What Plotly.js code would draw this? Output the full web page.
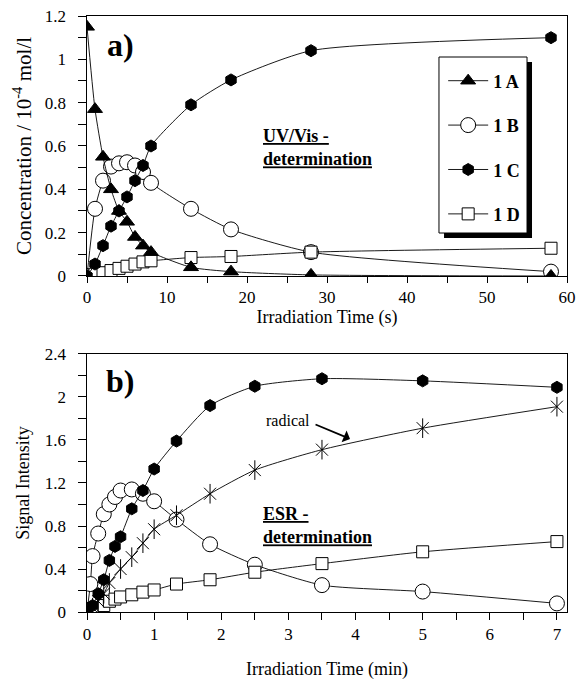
<!DOCTYPE html>
<html><head><meta charset="utf-8">
<script src="https://cdn.plot.ly/plotly-3.0.1.min.js"></script>
<style>html,body{margin:0;padding:0;background:#fff}#chart{width:577px;height:680px}</style>
</head><body><div id="chart"></div>
<script>
// ---- data: panel a) UV/Vis (time in s, concentration in 1e-4 mol/l)
const uvTime = [0, 1, 2, 3, 4, 5, 6, 7, 8, 13, 18, 28, 58];
const uv1A = [1.15, 0.77, 0.55, 0.40, 0.30, 0.25, 0.18, 0.14, 0.11, 0.04, 0.02, 0.005, 0];
const uv1B = [0, 0.31, 0.44, 0.505, 0.52, 0.525, 0.51, 0.48, 0.43, 0.31, 0.215, 0.11, 0.02];
const uv1C = [0, 0.055, 0.14, 0.23, 0.30, 0.365, 0.44, 0.51, 0.60, 0.79, 0.905, 1.04, 1.10];
const uv1D = [0, 0.008, 0.015, 0.025, 0.035, 0.045, 0.055, 0.065, 0.07, 0.085, 0.09, 0.11, 0.128];
const seriesNames = ['1 A', '1 B', '1 C', '1 D'];

// ---- data: panel b) ESR (time in min, signal intensity)
const esrTimeB = [0, 0.05, 0.083, 0.167, 0.25, 0.333, 0.417, 0.5, 0.667, 0.833, 1, 1.333, 1.833, 2.5, 3.5, 5, 7];
const esr1B = [0, 0.26, 0.52, 0.73, 0.91, 1.0, 1.07, 1.13, 1.14, 1.10, 1.03, 0.86, 0.63, 0.44, 0.25, 0.19, 0.08];
const esrTime = [0, 0.083, 0.167, 0.25, 0.333, 0.417, 0.5, 0.667, 0.833, 1, 1.333, 1.833, 2.5, 3.5, 5, 7];
const esr1C = [0, 0.06, 0.17, 0.30, 0.48, 0.61, 0.70, 0.96, 1.13, 1.33, 1.59, 1.92, 2.10, 2.17, 2.15, 2.09];
const esr1D = [0, 0.02, 0.04, 0.06, 0.10, 0.12, 0.14, 0.16, 0.185, 0.205, 0.26, 0.30, 0.37, 0.45, 0.56, 0.655];
const esrTimeRad = [0, 0.083, 0.167, 0.25, 0.333, 0.5, 0.667, 0.833, 1, 1.333, 1.833, 2.5, 3.5, 5, 7];
const esrRad = [0, 0.04, 0.10, 0.17, 0.27, 0.40, 0.51, 0.64, 0.77, 0.90, 1.10, 1.32, 1.51, 1.71, 1.91];

const SERIF = '"Liberation Serif", "Times New Roman", serif';
const lineStyle = {color: '#000', width: 0.9, shape: 'spline', smoothing: 0.6};

function tr(x, y, xa, ya, sym, fill, size, name, rank, show) {
  return {
    x: x, y: y, xaxis: xa, yaxis: ya, type: 'scatter', mode: 'lines+markers',
    name: name, legendrank: rank, legendgroup: name, showlegend: show,
    line: lineStyle,
    marker: {symbol: sym, size: size, color: fill, line: {color: '#000', width: 1}},
    hoverinfo: 'skip'
  };
}

const data = [
  tr(uvTime, uv1B, 'x', 'y', 'circle', '#fff', 15, seriesNames[1], 2, true),
  tr(uvTime, uv1D, 'x', 'y', 'square', '#fff', 12, seriesNames[3], 4, true),
  tr(uvTime, uv1A, 'x', 'y', 'triangle-up', '#000', 13, seriesNames[0], 1, true),
  tr(uvTime, uv1C, 'x', 'y', 'hexagon', '#000', 12, seriesNames[2], 3, true),

  tr(esrTimeB, esr1B, 'x2', 'y2', 'circle', '#fff', 15, 'b1B', 5, false),
  tr(esrTime, esr1D, 'x2', 'y2', 'square', '#fff', 12, 'b1D', 6, false),
  tr(esrTimeRad, esrRad, 'x2', 'y2', 'x-thin-open', '#000', 12, 'rad', 7, false),
  {x: esrTimeRad, y: esrRad, xaxis: 'x2', yaxis: 'y2', type: 'scatter', mode: 'markers', showlegend: false,
   marker: {symbol: 'line-ns-open', size: 14, color: '#000', line: {color: '#000', width: 1}}, hoverinfo: 'skip'},
  tr(esrTime, esr1C, 'x2', 'y2', 'hexagon', '#000', 12, 'b1C', 8, false)
];

const tickFont = {family: SERIF, size: 17, color: '#000'};
const titleFont = {family: SERIF, size: 18, color: '#000'};
// invisible spacer after the y tick labels keeps them clear of the tick marks
const ySuffix = '<span style="color:rgba(0,0,0,0)">0</span>';
function ax(extra) {
  return Object.assign({
    showline: true, linecolor: '#000', linewidth: 1, mirror: true,
    showgrid: false, zeroline: false, ticks: 'outside', ticklen: 8, tickwidth: 1, tickcolor: '#000',
    tickfont: tickFont, automargin: false
  }, extra);
}

// panel geometry in paper fractions (plot area 87..567 x 16..612 px)
const layout = {
  width: 577, height: 680,
  margin: {l: 87, r: 10, t: 16, b: 68},
  paper_bgcolor: '#fff', plot_bgcolor: '#fff',
  showlegend: true,
  xaxis: ax({anchor: 'y', range: [0, 60], tick0: 0, dtick: 10, ticklen: 6,
    minor: {dtick: 5, ticks: 'outside', ticklen: 6, tickcolor: '#000'},
    title: {text: 'Irradiation Time (s)', font: titleFont, standoff: 0}}),
  yaxis: ax({anchor: 'x', domain: [0.5638, 1], range: [0, 1.2], tick0: 0, dtick: 0.2,
    minor: {dtick: 0.1, ticks: 'outside', ticklen: 8, tickcolor: '#000'},
    ticksuffix: ySuffix,
    title: {text: 'Concentration / 10<sup>-4</sup> mol/l', font: {family: SERIF, size: 21, color: '#000'}, standoff: 7}}),
  xaxis2: ax({anchor: 'y2', range: [0, 7.15], tick0: 0, dtick: 1, ticklen: 7,
    minor: {dtick: 0.5, ticks: 'outside', ticklen: 7, tickcolor: '#000'},
    title: {text: 'Irradiation Time (min)', font: titleFont, standoff: 18}}),
  yaxis2: ax({anchor: 'x2', domain: [0, 0.4329], range: [0, 2.4], tick0: 0, dtick: 0.4,
    minor: {dtick: 0.2, ticks: 'outside', ticklen: 8, tickcolor: '#000'},
    ticksuffix: ySuffix,
    title: {text: 'Signal Intensity', font: titleFont, standoff: 10}}),
  legend: {
    x: 0.742, y: 0.922, xanchor: 'left', yanchor: 'top',
    bgcolor: 'rgba(0,0,0,0)', borderwidth: 0,
    font: {family: SERIF, size: 18, color: '#000', weight: 'bold'},
    traceorder: 'grouped', tracegroupgap: 18, itemwidth: 40
  },
  shapes: [
    {type: 'rect', xref: 'paper', yref: 'paper', x0: 0.7438, x1: 0.9271, y0: 0.6275, y1: 0.9228,
     fillcolor: '#000', line: {width: 0}, layer: 'above'},
    {type: 'rect', xref: 'paper', yref: 'paper', x0: 0.7333, x1: 0.9167, y0: 0.6359, y1: 0.9312,
     fillcolor: '#fff', line: {color: '#000', width: 1}, layer: 'above'}
  ],
  annotations: [
    {xref: 'x domain', yref: 'y domain', x: 0.069, y: 0.888, xanchor: 'center', yanchor: 'middle',
     text: '<b>a)</b>', showarrow: false, font: {family: SERIF, size: 32, color: '#000'}},
    {xref: 'x domain', yref: 'y domain', x: 0.3625, y: 0.496, xanchor: 'left', yanchor: 'middle', align: 'left',
     text: '<b><u>UV/Vis -</u></b><br><b><u>determination</u></b>', showarrow: false,
     font: {family: SERIF, size: 18, color: '#000'}},
    {xref: 'x2 domain', yref: 'y2 domain', x: 0.069, y: 0.895, xanchor: 'center', yanchor: 'middle',
     text: '<b>b)</b>', showarrow: false, font: {family: SERIF, size: 32, color: '#000'}},
    {xref: 'x2 domain', yref: 'y2 domain', x: 0.3625, y: 0.335, xanchor: 'left', yanchor: 'middle', align: 'left',
     text: '<b><u>ESR -</u></b><br><b><u>determination</u></b>', showarrow: false,
     font: {family: SERIF, size: 18, color: '#000'}},
    {xref: 'x2 domain', yref: 'y2 domain', x: 0.419, y: 0.744, xanchor: 'center', yanchor: 'middle',
     text: 'radical', showarrow: false, font: {family: SERIF, size: 16, color: '#000'}},
    {xref: 'x2 domain', yref: 'y2 domain', x: 0.548, y: 0.671, text: '', showarrow: true,
     ax: -36, ay: -15, arrowhead: 1, arrowsize: 1.2, arrowwidth: 1.8, arrowcolor: '#000', standoff: 0}
  ]
};

Plotly.newPlot('chart', data, layout, {displayModeBar: false, staticPlot: true});
</script>
</body></html>
